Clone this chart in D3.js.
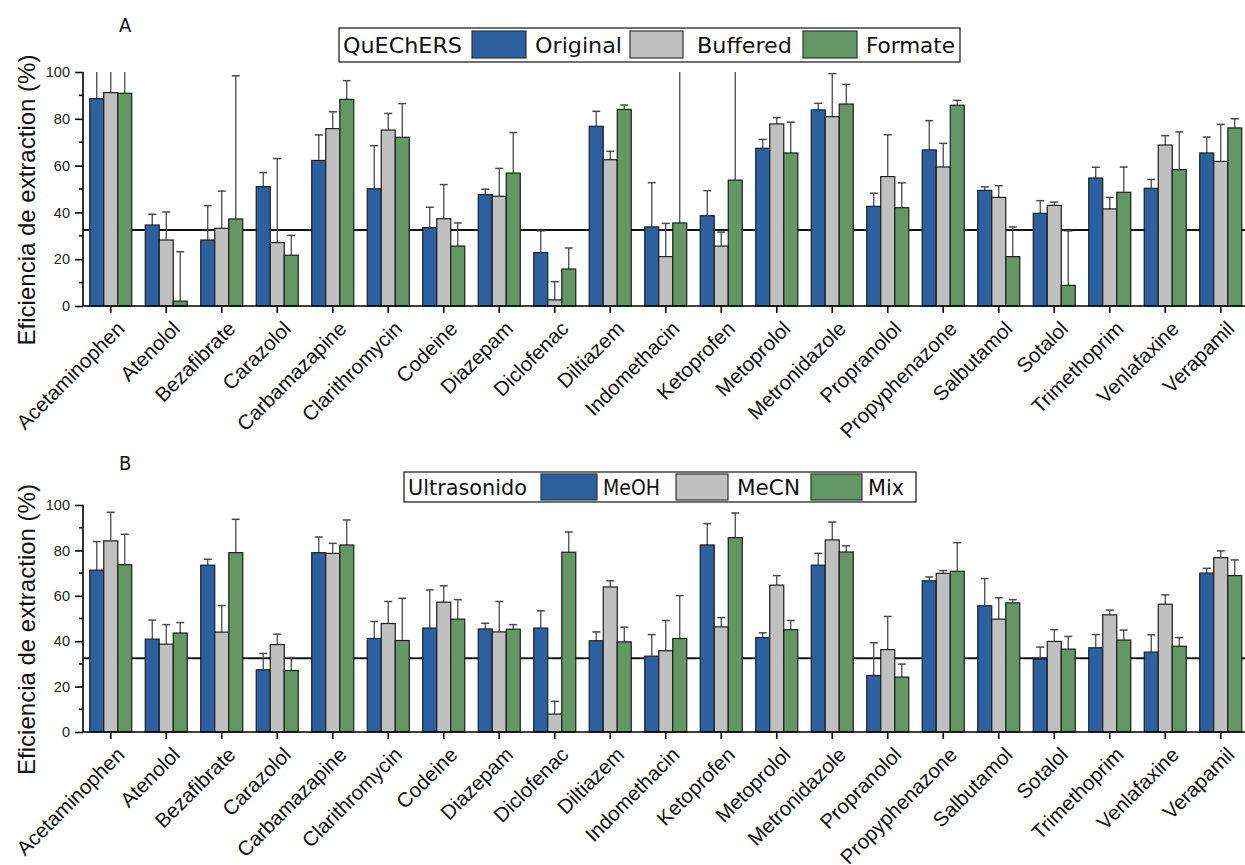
<!DOCTYPE html>
<html>
<head>
<meta charset="utf-8">
<script src="https://cdn.jsdelivr.net/npm/d3@7"></script>
<style>
  html, body { margin: 0; padding: 0; background: #fff; }
  svg { display: block; }
</style>
</head>
<body>
<svg id="chart" width="1245" height="865"></svg>
<script>
// Compounds on the x axis (shared by both panels)
const compounds = ["Acetaminophen", "Atenolol", "Bezafibrate", "Carazolol", "Carbamazapine",
  "Clarithromycin", "Codeine", "Diazepam", "Diclofenac", "Diltiazem", "Indomethacin",
  "Ketoprofen", "Metoprolol", "Metronidazole", "Propranolol", "Propyphenazone",
  "Salbutamol", "Sotalol", "Trimethoprim", "Venlafaxine", "Verapamil"];

const yTicks = [0, 20, 40, 60, 80, 100];
const referenceLevel = 32.5;

// Panel A: QuEChERS variants (mean and upper error)
const quechersOriginal    = [88.6, 34.6, 28.2, 51.0, 62.2, 50.1, 33.5, 47.6, 22.8, 76.8, 33.8, 38.6, 67.4, 83.8, 42.6, 66.7, 49.4, 39.6, 54.7, 50.3, 65.4];
const quechersOriginalErr = [13.4, 4.6, 14.7, 6.0, 10.9, 18.4, 8.7, 2.3, 9.3, 6.4, 18.9, 10.7, 3.8, 2.8, 5.6, 12.5, 1.5, 5.4, 4.6, 3.8, 6.8];
const quechersBuffered    = [91.2, 28.2, 33.2, 27.1, 75.8, 75.2, 37.3, 46.9, 2.6, 62.5, 21.1, 25.6, 77.8, 80.9, 55.3, 59.4, 46.4, 43.0, 41.5, 68.8, 61.8];
const quechersBufferedErr = [12.0, 12.0, 15.9, 35.9, 7.2, 7.1, 14.6, 11.9, 7.8, 3.6, 14.2, 6.0, 2.7, 18.4, 17.9, 10.1, 5.0, 1.4, 4.9, 4.0, 15.8];
const quechersFormate     = [90.9, 2.1, 37.2, 21.7, 88.3, 72.1, 25.6, 56.8, 15.8, 84.0, 35.5, 53.8, 65.4, 86.3, 42.0, 85.8, 21.1, 8.8, 48.6, 58.3, 76.1];
const quechersFormateErr  = [12.0, 21.1, 61.2, 8.5, 8.0, 14.4, 9.9, 17.3, 9.0, 1.9, 70.0, 55.0, 13.2, 8.4, 10.6, 2.1, 12.7, 23.3, 10.8, 16.1, 3.9];

// Panel B: ultrasound extraction solvents
const ultraMeOH    = [71.3, 40.9, 73.5, 27.4, 79.0, 41.2, 45.8, 45.4, 45.8, 40.2, 33.4, 82.4, 41.6, 73.5, 24.9, 66.6, 55.6, 32.1, 37.1, 35.2, 70.0];
const ultraMeOHErr = [12.6, 8.4, 2.6, 7.2, 6.9, 7.5, 16.8, 2.5, 7.6, 3.9, 9.5, 9.4, 2.1, 5.2, 14.4, 1.7, 12.0, 5.3, 5.8, 7.6, 2.1];
const ultraMeCN    = [84.2, 38.7, 44.0, 38.5, 78.7, 47.8, 57.2, 44.1, 7.9, 63.9, 35.8, 46.3, 64.7, 84.6, 36.3, 69.9, 49.7, 39.9, 51.6, 56.3, 76.8];
const ultraMeCNErr = [12.6, 8.6, 11.7, 4.6, 4.4, 9.7, 7.2, 13.4, 5.6, 2.7, 13.3, 4.1, 4.2, 7.9, 14.6, 1.2, 9.4, 5.2, 2.1, 4.1, 3.0];
const ultraMix     = [73.7, 43.6, 79.0, 27.1, 82.4, 40.3, 49.7, 45.3, 79.2, 39.7, 41.2, 85.6, 45.1, 79.3, 24.2, 70.8, 56.9, 36.5, 40.5, 37.8, 68.9];
const ultraMixErr  = [13.4, 4.6, 14.7, 5.7, 11.0, 18.6, 8.6, 2.0, 8.9, 6.5, 18.9, 10.9, 4.0, 2.7, 5.7, 12.6, 1.4, 5.6, 4.4, 3.8, 6.9];

const seriesColors = ["#2b61a1", "#c0c0c0", "#639764"];

const svg = d3.select("#chart");
const W = 1245;
const labelFont = "'Liberation Sans', Arial, Helvetica, sans-serif";

function drawPanel(cfg) {
  const g = svg.append("g");
  const x0 = d3.scaleBand().domain(compounds).range([83, 83 + 55.5 * compounds.length]).padding(0);
  const groupW = x0.bandwidth() * 0.757;
  const x1 = d3.scaleBand().domain(d3.range(cfg.series.length)).range([0, groupW]).padding(0);
  const y = d3.scaleLinear().domain([0, 100]).range([cfg.bottom, cfg.top]);

  const clipId = "clip-" + cfg.letter;
  svg.append("defs").append("clipPath").attr("id", clipId)
    .append("rect").attr("x", 0).attr("y", y(100)).attr("width", W).attr("height", y(0) - y(100) + 2);

  // reference line behind the bars
  g.append("line")
    .attr("x1", 83).attr("x2", W)
    .attr("y1", y(referenceLevel)).attr("y2", y(referenceLevel))
    .attr("stroke", "#111").attr("stroke-width", 2);

  const plot = g.append("g").attr("clip-path", `url(#${clipId})`);

  // error bars (upper half only)
  cfg.series.forEach((s, si) => {
    const eg = plot.append("g");
    compounds.forEach((c, i) => {
      const cx = x0(c) + (x0.bandwidth() - groupW) / 2 + x1(si) + x1.bandwidth() / 2;
      const v = s.values[i], e = s.errors[i];
      eg.append("line").attr("x1", cx).attr("x2", cx)
        .attr("y1", y(v)).attr("y2", y(v + e))
        .attr("stroke", "#4a4a4a").attr("stroke-width", 1.3);
      eg.append("line").attr("x1", cx - 4).attr("x2", cx + 4)
        .attr("y1", y(v + e)).attr("y2", y(v + e))
        .attr("stroke", "#4a4a4a").attr("stroke-width", 1.5);
    });
  });

  // bars
  cfg.series.forEach((s, si) => {
    plot.append("g").selectAll("rect").data(compounds).join("rect")
      .attr("x", (c) => x0(c) + (x0.bandwidth() - groupW) / 2 + x1(si))
      .attr("y", (c, i) => y(s.values[i]))
      .attr("width", x1.bandwidth())
      .attr("height", (c, i) => y(0) - y(s.values[i]))
      .attr("fill", seriesColors[si])
      .attr("stroke", "#1e1e1e").attr("stroke-width", 1.2);
  });

  // x axis
  g.append("line").attr("x1", 83).attr("x2", W).attr("y1", y(0)).attr("y2", y(0))
    .attr("stroke", "#000").attr("stroke-width", 1.6);
  const xt = g.append("g").selectAll("g").data(compounds).join("g")
    .attr("transform", (c) => `translate(${x0(c) + x0.bandwidth() / 2},${y(0)})`);
  xt.append("line").attr("y1", 0).attr("y2", 7).attr("stroke", "#000").attr("stroke-width", 1.6);
  xt.append("text")
    .attr("transform", "translate(15,24) rotate(-45)")
    .attr("text-anchor", "end")
    .attr("font-family", labelFont).attr("font-size", 20.5).attr("fill", "#111")
    .text((c) => c);

  // y axis
  const yAxis = d3.axisLeft(y).tickValues(yTicks).tickSize(8).tickPadding(5);
  const ya = g.append("g").attr("transform", "translate(83,0)").call(yAxis);
  ya.select(".domain").attr("stroke-width", 1.6).attr("d", `M0,${y(0)}V${y(100)}`);
  ya.selectAll(".tick line").attr("stroke-width", 1.6);
  ya.selectAll(".tick text").attr("font-family", labelFont).attr("font-size", 14.5).attr("fill", "#222");
  ya.append("g").selectAll("line").data([10, 30, 50, 70, 90]).join("line")
    .attr("x1", -4).attr("x2", 0).attr("y1", (d) => y(d)).attr("y2", (d) => y(d))
    .attr("stroke", "#000").attr("stroke-width", 1.6);

  g.append("text")
    .attr("transform", `translate(35,${(y(0) + y(100)) / 2 + 11}) rotate(-90)`)
    .attr("text-anchor", "middle")
    .attr("font-family", labelFont).attr("font-size", 24).attr("fill", "#111")
    .text("Eficiencia de extraction (%)");

  // panel letter
  g.append("text").attr("x", cfg.letterX).attr("y", cfg.letterY)
    .attr("font-family", "'DejaVu Sans Condensed', 'DejaVu Sans', sans-serif")
    .attr("font-size", 20).attr("fill", "#111").text(cfg.letter);

  // legend
  const L = cfg.legend;
  const lg = g.append("g");
  lg.append("rect").attr("x", L.box[0]).attr("y", L.box[1]).attr("width", L.box[2]).attr("height", L.box[3])
    .attr("fill", "#fff").attr("stroke", "#111").attr("stroke-width", 1.2);
  lg.append("text").attr("x", L.title[0]).attr("y", L.baseline)
    .attr("font-family", L.font).attr("font-size", L.size).attr("fill", "#111")
    .attr("textLength", L.title[1]).attr("lengthAdjust", "spacingAndGlyphs")
    .text(cfg.legendTitle);
  cfg.series.forEach((s, si) => {
    const it = L.items[si];
    lg.append("rect").attr("x", it.sw[0]).attr("y", L.swY).attr("width", it.sw[1]).attr("height", L.swH)
      .attr("fill", seriesColors[si]).attr("stroke", "#333").attr("stroke-width", 1.2);
    lg.append("text").attr("x", it.tx[0]).attr("y", L.baseline)
      .attr("font-family", L.font).attr("font-size", L.size).attr("fill", "#111")
      .attr("textLength", it.tx[1]).attr("lengthAdjust", "spacingAndGlyphs")
      .text(s.name);
  });
}

drawPanel({
  letter: "A", letterX: 119, letterY: 32,
  top: 72, bottom: 306,
  legendTitle: "QuEChERS",
  series: [
    { name: "Original", values: quechersOriginal, errors: quechersOriginalErr },
    { name: "Buffered", values: quechersBuffered, errors: quechersBufferedErr },
    { name: "Formate",  values: quechersFormate,  errors: quechersFormateErr }
  ],
  legend: {
    box: [339, 28, 621, 34], baseline: 53, swY: 31, swH: 27,
    font: "'DejaVu Sans Condensed', 'DejaVu Sans', sans-serif", size: 22,
    title: [343, 119],
    items: [
      { sw: [472, 54], tx: [535, 87] },
      { sw: [630, 53], tx: [697, 95] },
      { sw: [803, 54], tx: [866, 89] }
    ]
  }
});

drawPanel({
  letter: "B", letterX: 119, letterY: 470,
  top: 505, bottom: 732,
  legendTitle: "Ultrasonido",
  series: [
    { name: "MeOH", values: ultraMeOH, errors: ultraMeOHErr },
    { name: "MeCN", values: ultraMeCN, errors: ultraMeCNErr },
    { name: "Mix",  values: ultraMix,  errors: ultraMixErr }
  ],
  legend: {
    box: [404, 472, 512, 30], baseline: 495, swY: 474, swH: 26,
    font: "'DejaVu Sans', Verdana, sans-serif", size: 21,
    title: [408, 119],
    items: [
      { sw: [541, 56], tx: [603, 57] },
      { sw: [676, 52], tx: [737, 63] },
      { sw: [811, 51], tx: [868, 36] }
    ]
  }
});
</script>
</body>
</html>
